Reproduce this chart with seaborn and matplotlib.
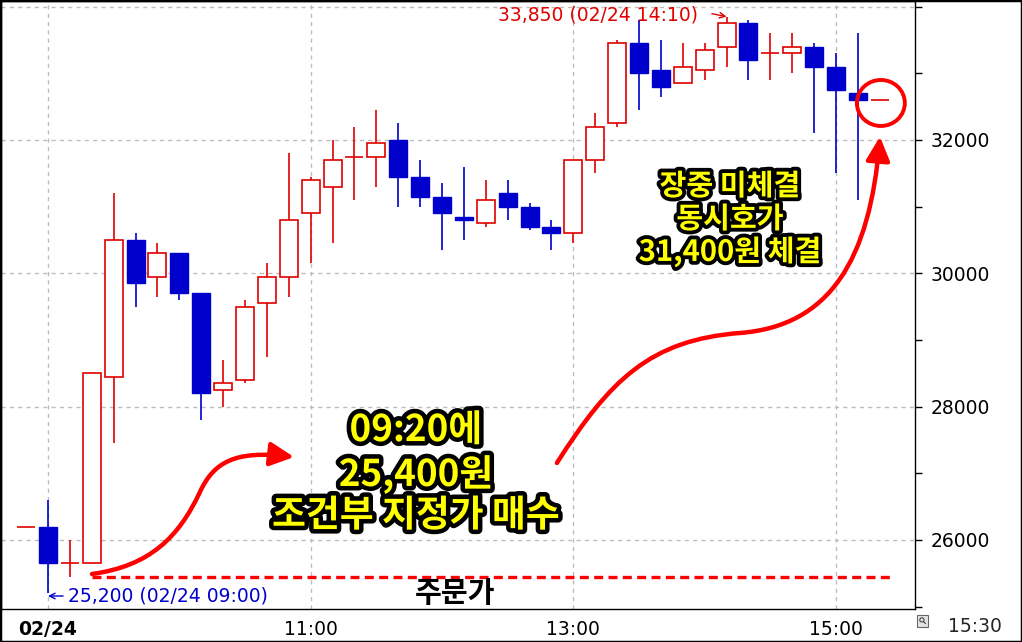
import matplotlib
matplotlib.use("Agg")
import matplotlib.pyplot as plt
import matplotlib.patheffects as pe
from matplotlib.patches import Ellipse, FancyArrowPatch, Rectangle
from matplotlib.path import Path
import numpy as np
import pandas as pd
import seaborn as sns

sns.set_style("white")
plt.rcParams["font.family"] = ["DejaVu Sans"]
KR = ["Noto Sans CJK KR", "DejaVu Sans"]

# --- 10-minute candles, 02/24 ---
times = ["08:50", "09:00", "09:10", "09:20", "09:30", "09:40", "09:50", "10:00",
         "10:10", "10:20", "10:30", "10:40", "10:50", "11:00", "11:10", "11:20",
         "11:30", "11:40", "11:50", "12:00", "12:10", "12:20", "12:30", "12:40",
         "12:50", "13:00", "13:10", "13:20", "13:30", "13:40", "13:50", "14:00",
         "14:10", "14:20", "14:30", "14:40", "14:50", "15:00", "15:10", "15:20"]
opens = [26200, 26200, 25650, 25650, 28450, 30500, 29950, 30300,
         29700, 28250, 28400, 29550, 29950, 30900, 31300, 31750,
         31750, 32000, 31450, 31150, 30850, 30750, 31200, 31000,
         30700, 30600, 31700, 32250, 33450, 33050, 32850, 33050,
         33400, 33750, 33300, 33300, 33400, 33100, 32700, 32600]
highs = [26200, 26600, 26000, 28500, 31200, 30600, 30450, 30300,
         29700, 28700, 29600, 30150, 31800, 31450, 32000, 32200,
         32450, 32250, 31700, 31350, 31600, 31400, 31400, 31050,
         30800, 31700, 32400, 33500, 33800, 33500, 33450, 33450,
         33850, 33800, 33600, 33600, 33450, 33300, 33600, 32600]
lows = [26200, 25200, 25450, 25650, 27450, 29500, 29650, 29600,
        27800, 28000, 28350, 28750, 29650, 30150, 30450, 31100,
        31300, 31000, 31000, 30350, 30500, 30700, 30800, 30650,
        30350, 30450, 31500, 32200, 32450, 32650, 32850, 32900,
        33100, 32900, 32900, 33000, 32100, 31500, 31100, 32600]
closes = [26200, 25650, 25650, 28500, 30500, 29850, 30300, 29700,
          28200, 28350, 29500, 29950, 30800, 31400, 31700, 31750,
          31950, 31450, 31150, 30900, 30800, 31100, 31000, 30700,
          30600, 31700, 32200, 33450, 33000, 32800, 33100, 33350,
          33750, 33200, 33300, 33400, 33100, 32750, 32600, 32600]

order_price = 25450
high_label = "33,850 (02/24 14:10)"
low_label = "25,200 (02/24 09:00)"

y_major = [26000, 28000, 30000, 32000, 34000]
y_minor = [25000, 27000, 29000, 31000, 33000]
x_tick_times = ["09:00", "11:00", "13:00", "15:00"]
x_tick_labels = ["02/24", "11:00", "13:00", "15:00"]

RED = "#e00000"
BLUE = "#0000cc"
MARK = "#ff0000"
GRID = "#bdbdbd"

df = pd.DataFrame({"time": times, "open": opens, "high": highs,
                   "low": lows, "close": closes})
df["x"] = np.arange(len(df))
df["color"] = np.where(df["close"] >= df["open"], RED, BLUE)
W = 0.82

fig = plt.figure(figsize=(10.22, 6.42), dpi=100)
ax = fig.add_axes([1 / 1022, 1 - 609 / 642, 914 / 1022, 608 / 642])

# wicks
ax.vlines(df["x"], df["low"], df["high"], colors=df["color"], lw=1.2, zorder=2)

# bodies
up = df[df["close"] > df["open"]]
dn = df[df["close"] < df["open"]]
doji = df[df["close"] == df["open"]]
ax.bar(up["x"], up["close"] - up["open"], bottom=up["open"], width=W,
       facecolor="white", edgecolor=RED, lw=1.2, zorder=3)
ax.bar(dn["x"], dn["open"] - dn["close"], bottom=dn["close"], width=W,
       facecolor=BLUE, edgecolor=BLUE, lw=1.0, zorder=3)
ax.hlines(doji["close"], doji["x"] - W / 2, doji["x"] + W / 2, colors=RED,
          lw=1.2, zorder=3)

# axes
ax.set_xlim(-1.147, 40.61)
ax.set_ylim(24963, 34085)
ax.yaxis.tick_right()
ax.set_yticks(y_major)
ax.set_yticklabels([f"{v}" for v in y_major])
ax.set_yticks(y_minor, minor=True)
ax.yaxis.get_ticklabels()[-1].set_visible(False)
ax.set_xticks([times.index(t) for t in x_tick_times])
ax.set_xticklabels(x_tick_labels)
ax.get_xticklabels()[0].set_fontweight("bold")
ax.tick_params(axis="y", which="both", direction="out", length=5, width=1,
               labelsize=13.5, pad=6, colors="black")
ax.tick_params(axis="x", direction="out", length=4, width=1, labelsize=13.5,
               pad=4, colors="black")
ax.grid(True, which="major", color=GRID, lw=1, ls=(0, (3, 3)))
for s in ax.spines.values():
    s.set_color("black")
    s.set_linewidth(1)

# order price line
ax.hlines(order_price, 3.0, 39.6, colors=MARK, lw=2.4, ls=(0, (2.7, 1.6)), zorder=4)
ax.text(19.59, 25204, "주문가", family=KR, fontsize=21, fontweight="bold",
        ha="center", va="center", color="black", zorder=5)

# high / low labels
ax.annotate("", xy=(32.0, 33850), xytext=(31.33, 33895),
            arrowprops=dict(arrowstyle="->", color=RED, lw=1, shrinkA=0, shrinkB=0))
ax.text(30.69, 33875, high_label, color=RED, fontsize=13.5, ha="right", va="center")
ax.annotate("", xy=(1.0, 25158), xytext=(1.69, 25158),
            arrowprops=dict(arrowstyle="->", color=BLUE, lw=1, shrinkA=0, shrinkB=0))
ax.text(1.91, 25158, low_label, color=BLUE, fontsize=13.5, ha="left", va="center")

# hand-drawn style red arrows
C = Path.CURVE4
arrow1 = Path([(3.01, 25488), (5.66, 25608), (6.98, 26043), (7.94, 26718),
               (8.58, 27168), (9.54, 27348), (12.24, 27243)],
              [Path.MOVETO, C, C, C, C, C, C])
arrow2 = Path([(24.25, 27154), (26.67, 28399), (28.50, 28999), (32.61, 29104),
               (36.72, 29209), (38.55, 30199), (39.01, 32050)],
              [Path.MOVETO, C, C, C, C, C, C])
for p in (arrow1, arrow2):
    ax.add_patch(FancyArrowPatch(path=p, arrowstyle="-|>,head_length=0.9,head_width=0.45",
                                 mutation_scale=16, color=MARK, lw=3.2, zorder=6))
ax.add_patch(Ellipse((39.05, 32555), 2.19, 690, fill=False, ec=MARK, lw=2.8, zorder=6))

# callout texts
outline = [pe.withStroke(linewidth=6.5, foreground="black")]
for txt, y in zip(["09:20에", "25,400원", "조건부 지정가 매수"], [27640, 26980, 26360]):
    ax.text(17.81, y, txt, family=KR, fontsize=26.5, fontweight="heavy",
            color="#ffff00", ha="center", va="center", path_effects=outline, zorder=7)
outline2 = [pe.withStroke(linewidth=5.5, foreground="black")]
for txt, y in zip(["장중 미체결", "동시호가", "31,400원 체결"], [31309, 30815, 30320]):
    ax.text(32.16, y, txt, family=KR, fontsize=21, fontweight="heavy",
            color="#ffff00", ha="center", va="center", path_effects=outline2, zorder=7)

# extra bits outside the axes
fig.text(975 / 1022, 1 - 627 / 642, "15:30", fontsize=13.5, ha="center", va="center")
fig.patches.append(Rectangle((917 / 1022, 1 - 627 / 642), 11 / 1022, 12 / 642,
                             transform=fig.transFigure, fc="#e4e4e4", ec="#666666", lw=0.8))
fig.text(922.5 / 1022, 1 - 621 / 642, "⚲", fontsize=7, ha="center", va="center",
         rotation=45)
fig.patches.append(Rectangle((0, 0), 1, 1, transform=fig.transFigure, fill=False,
                             ec="black", lw=2.5))

fig.savefig("out.png", dpi=100)
